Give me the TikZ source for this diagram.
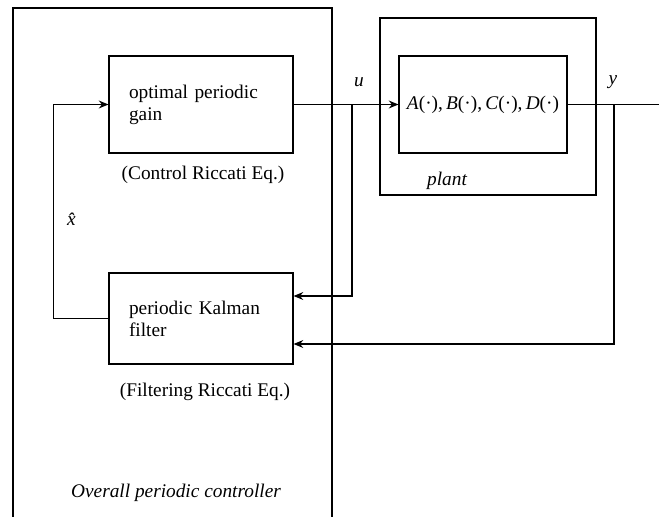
\documentclass[tikz,border=0pt]{standalone}
\usepackage{fontspec}
\setmainfont{Liberation Serif}
\usetikzlibrary{arrows.meta, positioning, calc}

\begin{document}
\begin{tikzpicture}[
  x=0.02cm, y=-0.02cm,
  line width=0.65pt,
  every node/.style={font=\fontsize{11}{12.5}\selectfont},
  blockbox/.style={rectangle, draw, minimum width=3.68cm, text width=2.88cm, inner xsep=0.4cm, align=left},
  sysbox/.style={rectangle, draw, minimum width=3.36cm, minimum height=1.94cm, align=center},
  sig/.style={-{Stealth[length=5.5pt, width=4.5pt]}},
]
\useasboundingbox (0,0) rectangle (659,517);

% Overall controller (open at the bottom)
\draw (13,530) -- (13,8) -- (332,8) -- (332,530);
\node[font=\fontsize{11}{12.5}\selectfont\itshape] (ctrllabel) at (176,493) {Overall periodic controller};

\node[blockbox, minimum height=1.94cm] (gain) at (201,104.5) {optimal periodic\\gain};
\node (gaineq) at (203,175) {(Control Riccati Eq.)};

\node[blockbox, minimum height=1.82cm] (kfilter) at (201,318.5) {periodic Kalman\\filter};
\node (filteq) at (205,392) {(Filtering Riccati Eq.)};

% Plant
\node[draw, minimum width=4.32cm, minimum height=3.54cm] (plantbox) at (488,106.5) {};
\node[sysbox] (plantsys) at (483,104.5) {\textit{A}(·),\,\textit{B}(·),\,\textit{C}(·),\,\textit{D}(·)};
\node[font=\fontsize{11}{12.5}\selectfont\itshape] (plantlabel) at (447,181) {plant};

% Signals
\coordinate (ubranch) at (352,104.5);
\coordinate (ybranch) at (614,104.5);
\coordinate (yend) at (662,104.5);

\draw[sig] (gain.east) -- (plantsys.west);
\draw (plantsys.east) -- (yend);
\draw[sig] (ubranch) |- ([yshift=0.45cm]kfilter.east);
\draw[sig] (ybranch) |- ([yshift=-0.51cm]kfilter.east);
\draw[sig] (kfilter.west) -- ++(-55,0) |- (gain.west);

\node (ulabel) at (359,82) {\textit{u}};
\node (ylabel) at (613,82) {\textit{y}};
\node (xhat) at (75,219) {\textit{x̂}};

\end{tikzpicture}
\end{document}
